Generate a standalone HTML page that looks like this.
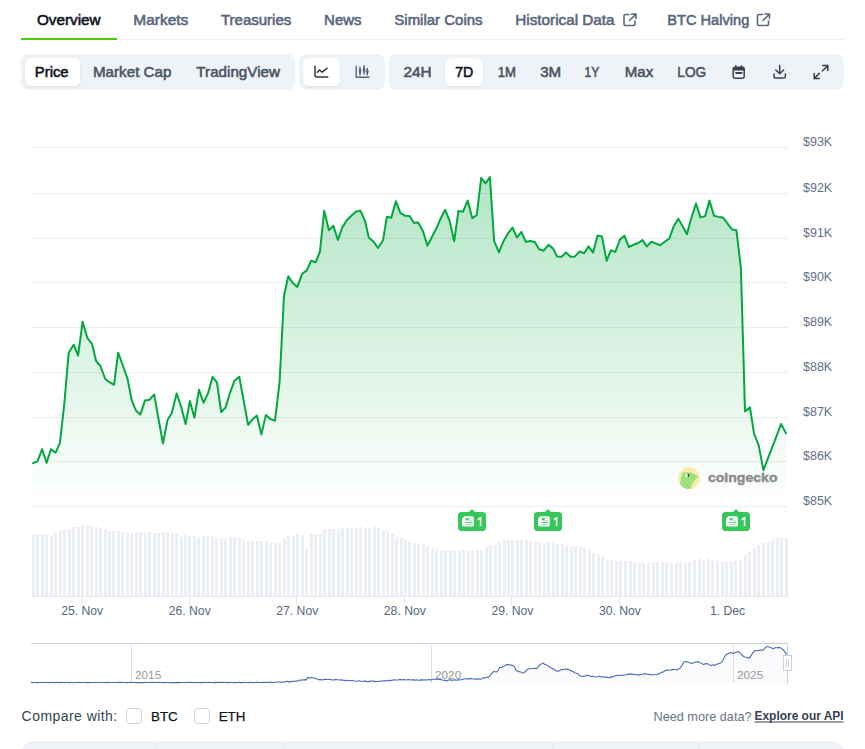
<!DOCTYPE html>
<html><head><meta charset="utf-8"><style>
html,body{margin:0;padding:0;background:#fff;width:865px;height:749px;overflow:hidden}
svg{display:block;font-family:"Liberation Sans", sans-serif}
</style></head><body>
<svg width="865" height="749" viewBox="0 0 865 749">
<defs>
<linearGradient id="ag" x1="0" y1="177" x2="0" y2="506" gradientUnits="userSpaceOnUse">
<stop offset="0" stop-color="#00a83e" stop-opacity="0.3"/>
<stop offset="1" stop-color="#00a83e" stop-opacity="0"/>
</linearGradient>
<filter id="sh" x="-20%" y="-20%" width="140%" height="150%"><feDropShadow dx="0" dy="1" stdDeviation="1" flood-color="#0d1421" flood-opacity="0.08"/></filter>
</defs>
<g transform="translate(623,13)" fill="none" stroke="#58667e" stroke-width="1.6" stroke-linecap="round" stroke-linejoin="round"><path d="M6 1.5H2.5a1.5 1.5 0 0 0-1.5 1.5v8a1.5 1.5 0 0 0 1.5 1.5h8a1.5 1.5 0 0 0 1.5-1.5V8"/><path d="M8.5 1H13V5.5M13 1L6.5 7.5"/></g><g transform="translate(756.5,13)" fill="none" stroke="#58667e" stroke-width="1.6" stroke-linecap="round" stroke-linejoin="round"><path d="M6 1.5H2.5a1.5 1.5 0 0 0-1.5 1.5v8a1.5 1.5 0 0 0 1.5 1.5h8a1.5 1.5 0 0 0 1.5-1.5V8"/><path d="M8.5 1H13V5.5M13 1L6.5 7.5"/></g><rect x="117" y="39" width="727" height="1" fill="#eef1f5"/><rect x="21" y="38" width="96" height="2" fill="#4bcc00"/><rect x="21" y="54" width="274" height="36" rx="8" fill="#eff3f8"/><rect x="299" y="54" width="86" height="36" rx="8" fill="#eff3f8"/><rect x="389" y="54" width="455" height="36" rx="8" fill="#eff3f8"/><rect x="25" y="58" width="55" height="28" rx="6" fill="#fff" filter="url(#sh)"/><rect x="303" y="58" width="37" height="28" rx="6" fill="#fff" filter="url(#sh)"/><rect x="445" y="58" width="38" height="28" rx="6" fill="#fff" filter="url(#sh)"/><text x="37.0" y="25" font-size="14" font-weight="400" fill="#0d1421" text-anchor="start" stroke="#0d1421" stroke-width="0.55" textLength="63.60" lengthAdjust="spacingAndGlyphs">Overview</text><text x="133.3" y="25" font-size="14" font-weight="400" fill="#58667e" text-anchor="start" stroke="#58667e" stroke-width="0.55" textLength="55.00" lengthAdjust="spacingAndGlyphs">Markets</text><text x="221.0" y="25" font-size="14" font-weight="400" fill="#58667e" text-anchor="start" stroke="#58667e" stroke-width="0.55" textLength="70.28" lengthAdjust="spacingAndGlyphs">Treasuries</text><text x="324.14" y="25" font-size="14" font-weight="400" fill="#58667e" text-anchor="start" stroke="#58667e" stroke-width="0.55" textLength="37.46" lengthAdjust="spacingAndGlyphs">News</text><text x="394.32" y="25" font-size="14" font-weight="400" fill="#58667e" text-anchor="start" stroke="#58667e" stroke-width="0.55" textLength="88.28" lengthAdjust="spacingAndGlyphs">Similar Coins</text><text x="515.3" y="25" font-size="14" font-weight="400" fill="#58667e" text-anchor="start" stroke="#58667e" stroke-width="0.55" textLength="99.30" lengthAdjust="spacingAndGlyphs">Historical Data</text><text x="667.32" y="25" font-size="14" font-weight="400" fill="#58667e" text-anchor="start" stroke="#58667e" stroke-width="0.55" textLength="81.98" lengthAdjust="spacingAndGlyphs">BTC Halving</text><text x="34.8" y="77" font-size="14" font-weight="400" fill="#0d1421" text-anchor="start" stroke="#0d1421" stroke-width="0.55" textLength="33.80" lengthAdjust="spacingAndGlyphs">Price</text><text x="92.98" y="77" font-size="14" font-weight="400" fill="#4b5565" text-anchor="start" stroke="#4b5565" stroke-width="0.55" textLength="78.48" lengthAdjust="spacingAndGlyphs">Market Cap</text><text x="196.36" y="77" font-size="14" font-weight="400" fill="#4b5565" text-anchor="start" stroke="#4b5565" stroke-width="0.55" textLength="83.58" lengthAdjust="spacingAndGlyphs">TradingView</text><text x="403.5" y="77" font-size="14" font-weight="400" fill="#4b5565" text-anchor="start" stroke="#4b5565" stroke-width="0.55" textLength="28.14" lengthAdjust="spacingAndGlyphs">24H</text><text x="455.16" y="77" font-size="14" font-weight="400" fill="#0d1421" text-anchor="start" stroke="#0d1421" stroke-width="0.55" textLength="18.12" lengthAdjust="spacingAndGlyphs">7D</text><text x="497.66" y="77" font-size="14" font-weight="400" fill="#4b5565" text-anchor="start" stroke="#4b5565" stroke-width="0.55" textLength="18.32" lengthAdjust="spacingAndGlyphs">1M</text><text x="540.16" y="77" font-size="14" font-weight="400" fill="#4b5565" text-anchor="start" stroke="#4b5565" stroke-width="0.55" textLength="20.98" lengthAdjust="spacingAndGlyphs">3M</text><text x="584.48" y="77" font-size="14" font-weight="400" fill="#4b5565" text-anchor="start" stroke="#4b5565" stroke-width="0.55" textLength="14.78" lengthAdjust="spacingAndGlyphs">1Y</text><text x="624.82" y="77" font-size="14" font-weight="400" fill="#4b5565" text-anchor="start" stroke="#4b5565" stroke-width="0.55" textLength="28.46" lengthAdjust="spacingAndGlyphs">Max</text><text x="677.32" y="77" font-size="14" font-weight="400" fill="#4b5565" text-anchor="start" stroke="#4b5565" stroke-width="0.55" textLength="28.82" lengthAdjust="spacingAndGlyphs">LOG</text><g fill="none" stroke="#2f3848" stroke-width="1.5" stroke-linecap="round" stroke-linejoin="round"><path d="M315 66.3V75.5a1.5 1.5 0 0 0 1.5 1.5H327.8"/><path d="M317.3 72.2L319.5 69.9L322.1 72.2L327 68.4"/></g><g fill="none" stroke="#58667e" stroke-width="1.4" stroke-linecap="round"><path d="M356.2 66.2V77.2H369"/><path d="M360 67.3V74.9M364.1 65.7V74.1M367.3 68.4V74.9"/></g><g fill="#58667e"><ellipse cx="360" cy="71.1" rx="1.3" ry="2.6"/><ellipse cx="364.1" cy="69.9" rx="1.3" ry="2.8"/><ellipse cx="367.3" cy="71.6" rx="1.3" ry="2.2"/></g><g fill="none" stroke="#364152" stroke-width="1.5" stroke-linejoin="round"><rect x="733.2" y="67.2" width="11" height="11" rx="2"/></g><rect x="733.2" y="67.2" width="11" height="3.3" fill="#364152"/><rect x="735.4" y="72" width="7" height="2" fill="#364152"/><path d="M735.8 65.2V67.5M741.6 65.2V67.5" stroke="#364152" stroke-width="1.5"/><g fill="none" stroke="#364152" stroke-width="1.5" stroke-linecap="round" stroke-linejoin="round"><path d="M779.7 65.5V73.5M775.8 70L779.7 73.8L783.6 70"/><path d="M774 74V76.3a1.8 1.8 0 0 0 1.8 1.8h7.8a1.8 1.8 0 0 0 1.8-1.8V74"/></g><g fill="none" stroke="#364152" stroke-width="1.5" stroke-linecap="round" stroke-linejoin="round"><path d="M822.7 65.6H827.8V70.6M827.8 65.6L822.3 71"/><path d="M814.2 73.6V78.6H819.2M814.2 78.6L819.3 73.4"/></g><rect x="31" y="147" width="757" height="1" fill="#ebeef2"/><rect x="31" y="193" width="757" height="1" fill="#ebeef2"/><rect x="31" y="238" width="757" height="1" fill="#ebeef2"/><rect x="31" y="282" width="757" height="1" fill="#ebeef2"/><rect x="31" y="327" width="757" height="1" fill="#ebeef2"/><rect x="31" y="372" width="757" height="1" fill="#ebeef2"/><rect x="31" y="417" width="757" height="1" fill="#ebeef2"/><rect x="31" y="461" width="757" height="1" fill="#ebeef2"/><rect x="31" y="506" width="757" height="1" fill="#ebeef2"/><text x="803" y="145.8" font-size="12.5" font-weight="400" fill="#64708a" text-anchor="start" >$93K</text><text x="803" y="191.8" font-size="12.5" font-weight="400" fill="#64708a" text-anchor="start" >$92K</text><text x="803" y="236.8" font-size="12.5" font-weight="400" fill="#64708a" text-anchor="start" >$91K</text><text x="803" y="280.8" font-size="12.5" font-weight="400" fill="#64708a" text-anchor="start" >$90K</text><text x="803" y="325.8" font-size="12.5" font-weight="400" fill="#64708a" text-anchor="start" >$89K</text><text x="803" y="370.8" font-size="12.5" font-weight="400" fill="#64708a" text-anchor="start" >$88K</text><text x="803" y="415.8" font-size="12.5" font-weight="400" fill="#64708a" text-anchor="start" >$87K</text><text x="803" y="459.8" font-size="12.5" font-weight="400" fill="#64708a" text-anchor="start" >$86K</text><text x="803" y="504.8" font-size="12.5" font-weight="400" fill="#64708a" text-anchor="start" >$85K</text><path d="M33.0 463.2 L37.5 461.3 L42.0 449.3 L46.7 462.8 L50.9 449.3 L55.6 452.7 L59.9 442.9 L64.3 404.0 L68.7 352.7 L73.6 344.8 L78.1 355.5 L82.6 321.8 L87.3 337.8 L92.0 343.8 L96.2 361.3 L100.5 366.0 L105.2 379.0 L109.5 382.2 L114.0 384.8 L118.2 352.7 L123.0 366.0 L127.5 378.6 L131.7 400.1 L135.9 410.5 L140.4 414.5 L144.9 400.6 L149.4 399.8 L154.2 394.5 L158.7 420.0 L163.0 443.4 L167.5 420.1 L171.8 412.9 L176.6 393.4 L181.1 406.5 L185.6 424.1 L189.9 400.9 L194.4 417.7 L199.0 389.7 L203.5 402.8 L208.0 393.4 L212.5 376.9 L217.0 382.5 L221.2 412.0 L225.6 407.5 L230.0 392.8 L234.4 380.8 L239.3 376.7 L243.7 400.9 L248.1 424.8 L252.5 419.3 L256.9 415.6 L261.4 434.4 L265.9 414.9 L270.3 419.0 L275.0 420.7 L279.6 382.0 L284.0 295.8 L288.3 276.3 L292.8 283.1 L297.4 286.9 L302.2 273.7 L306.8 270.4 L311.1 260.8 L315.6 262.3 L319.9 251.8 L324.2 210.8 L328.9 230.2 L333.3 225.6 L337.9 239.9 L342.2 227.6 L346.8 220.3 L351.4 215.7 L355.7 211.7 L360.3 210.6 L364.9 220.6 L368.8 237.4 L373.4 241.4 L378.0 248.0 L383.0 240.3 L386.9 216.8 L391.3 217.7 L395.9 201.3 L400.5 213.1 L404.9 215.7 L409.6 216.0 L414.0 223.0 L418.2 222.6 L423.0 231.3 L427.4 245.7 L432.0 236.7 L436.4 228.3 L440.6 218.7 L445.1 209.7 L449.7 221.1 L454.2 241.2 L458.4 211.1 L462.9 211.8 L467.7 200.6 L472.3 218.3 L476.7 215.1 L481.2 177.8 L485.5 183.5 L489.9 177.0 L494.1 240.9 L498.9 252.3 L503.1 242.1 L507.7 233.8 L512.5 227.5 L516.9 237.4 L521.4 231.8 L525.8 241.8 L530.4 241.1 L534.8 242.0 L539.1 249.2 L543.7 250.7 L548.4 244.9 L553.0 248.4 L557.0 256.4 L561.6 256.8 L566.0 252.4 L570.7 256.8 L575.0 256.4 L579.6 251.5 L584.2 253.3 L588.5 246.4 L593.1 252.6 L597.5 235.6 L602.0 236.6 L606.6 260.9 L610.8 250.3 L615.4 251.9 L619.9 239.5 L624.3 235.7 L628.9 247.0 L633.5 244.7 L638.2 243.0 L642.5 240.1 L646.8 246.4 L651.4 241.8 L656.1 243.6 L660.3 245.3 L664.7 241.8 L669.4 238.4 L673.8 226.2 L678.3 218.7 L682.7 226.2 L686.9 234.3 L691.3 218.1 L696.0 203.5 L700.5 217.4 L705.2 216.1 L709.5 200.6 L714.0 215.8 L718.6 216.9 L723.1 217.6 L727.4 223.3 L732.0 229.4 L736.4 230.2 L740.9 268.0 L745.0 411.4 L750.0 407.4 L754.0 433.4 L758.7 445.4 L763.4 470.1 L767.8 458.6 L772.3 447.1 L776.7 435.5 L781.1 424.0 L786.0 433.4 L786.0 506 L33.0 506 Z" fill="url(#ag)"/><g fill="#ebeef3" shape-rendering="crispEdges"><rect x="32" y="535" width="3" height="61"/><rect x="36" y="534" width="3" height="62"/><rect x="41" y="534" width="3" height="62"/><rect x="45" y="534" width="3" height="62"/><rect x="50" y="536" width="3" height="60"/><rect x="54" y="533" width="3" height="63"/><rect x="59" y="531" width="3" height="65"/><rect x="63" y="530" width="3" height="66"/><rect x="68" y="529" width="3" height="67"/><rect x="72" y="527" width="3" height="69"/><rect x="77" y="527" width="3" height="69"/><rect x="81" y="525" width="3" height="71"/><rect x="86" y="525" width="3" height="71"/><rect x="90" y="526" width="3" height="70"/><rect x="95" y="527" width="3" height="69"/><rect x="99" y="528" width="3" height="68"/><rect x="104" y="529" width="3" height="67"/><rect x="108" y="531" width="3" height="65"/><rect x="112" y="531" width="3" height="65"/><rect x="117" y="531" width="3" height="65"/><rect x="121" y="532" width="3" height="64"/><rect x="126" y="533" width="3" height="63"/><rect x="130" y="534" width="3" height="62"/><rect x="135" y="532" width="3" height="64"/><rect x="139" y="532" width="3" height="64"/><rect x="144" y="533" width="3" height="63"/><rect x="148" y="532" width="3" height="64"/><rect x="153" y="533" width="3" height="63"/><rect x="157" y="533" width="3" height="63"/><rect x="162" y="532" width="3" height="64"/><rect x="166" y="532" width="3" height="64"/><rect x="171" y="533" width="3" height="63"/><rect x="175" y="534" width="3" height="62"/><rect x="180" y="537" width="3" height="59"/><rect x="184" y="535" width="3" height="61"/><rect x="188" y="536" width="3" height="60"/><rect x="193" y="536" width="3" height="60"/><rect x="197" y="537" width="3" height="59"/><rect x="202" y="536" width="3" height="60"/><rect x="206" y="536" width="3" height="60"/><rect x="211" y="536" width="3" height="60"/><rect x="215" y="538" width="3" height="58"/><rect x="220" y="538" width="3" height="58"/><rect x="224" y="538" width="3" height="58"/><rect x="229" y="537" width="3" height="59"/><rect x="233" y="537" width="3" height="59"/><rect x="238" y="538" width="3" height="58"/><rect x="242" y="540" width="3" height="56"/><rect x="247" y="541" width="3" height="55"/><rect x="251" y="541" width="3" height="55"/><rect x="256" y="541" width="3" height="55"/><rect x="260" y="541" width="3" height="55"/><rect x="265" y="541" width="3" height="55"/><rect x="269" y="543" width="3" height="53"/><rect x="274" y="543" width="3" height="53"/><rect x="278" y="543" width="3" height="53"/><rect x="283" y="539" width="3" height="57"/><rect x="287" y="536" width="3" height="60"/><rect x="292" y="535" width="3" height="61"/><rect x="296" y="534" width="3" height="62"/><rect x="301" y="535" width="3" height="61"/><rect x="305" y="549" width="3" height="47"/><rect x="310" y="534" width="3" height="62"/><rect x="314" y="534" width="3" height="62"/><rect x="319" y="534" width="3" height="62"/><rect x="323" y="529" width="3" height="67"/><rect x="328" y="529" width="3" height="67"/><rect x="332" y="529" width="3" height="67"/><rect x="337" y="529" width="3" height="67"/><rect x="341" y="528" width="3" height="68"/><rect x="346" y="528" width="3" height="68"/><rect x="350" y="528" width="3" height="68"/><rect x="355" y="528" width="3" height="68"/><rect x="359" y="527" width="3" height="69"/><rect x="364" y="528" width="3" height="68"/><rect x="368" y="528" width="3" height="68"/><rect x="373" y="527" width="3" height="69"/><rect x="377" y="528" width="3" height="68"/><rect x="382" y="530" width="3" height="66"/><rect x="386" y="531" width="3" height="65"/><rect x="391" y="534" width="3" height="62"/><rect x="395" y="537" width="3" height="59"/><rect x="400" y="538" width="3" height="58"/><rect x="404" y="540" width="3" height="56"/><rect x="408" y="542" width="3" height="54"/><rect x="413" y="543" width="3" height="53"/><rect x="417" y="543" width="3" height="53"/><rect x="422" y="544" width="3" height="52"/><rect x="426" y="546" width="3" height="50"/><rect x="431" y="548" width="3" height="48"/><rect x="435" y="549" width="3" height="47"/><rect x="440" y="550" width="3" height="46"/><rect x="444" y="550" width="3" height="46"/><rect x="449" y="550" width="3" height="46"/><rect x="453" y="550" width="3" height="46"/><rect x="458" y="550" width="3" height="46"/><rect x="462" y="550" width="3" height="46"/><rect x="467" y="551" width="3" height="45"/><rect x="471" y="550" width="3" height="46"/><rect x="476" y="550" width="3" height="46"/><rect x="480" y="550" width="3" height="46"/><rect x="485" y="547" width="3" height="49"/><rect x="489" y="545" width="3" height="51"/><rect x="494" y="545" width="3" height="51"/><rect x="498" y="542" width="3" height="54"/><rect x="503" y="540" width="3" height="56"/><rect x="507" y="540" width="3" height="56"/><rect x="511" y="540" width="3" height="56"/><rect x="516" y="540" width="3" height="56"/><rect x="520" y="540" width="3" height="56"/><rect x="525" y="540" width="3" height="56"/><rect x="529" y="541" width="3" height="55"/><rect x="534" y="541" width="3" height="55"/><rect x="538" y="542" width="3" height="54"/><rect x="543" y="543" width="3" height="53"/><rect x="547" y="542" width="3" height="54"/><rect x="552" y="543" width="3" height="53"/><rect x="556" y="544" width="3" height="52"/><rect x="561" y="544" width="3" height="52"/><rect x="565" y="545" width="3" height="51"/><rect x="570" y="546" width="3" height="50"/><rect x="574" y="546" width="3" height="50"/><rect x="579" y="547" width="3" height="49"/><rect x="583" y="548" width="3" height="48"/><rect x="588" y="549" width="3" height="47"/><rect x="592" y="553" width="3" height="43"/><rect x="597" y="554" width="3" height="42"/><rect x="601" y="556" width="3" height="40"/><rect x="606" y="560" width="3" height="36"/><rect x="610" y="560" width="3" height="36"/><rect x="615" y="561" width="3" height="35"/><rect x="619" y="561" width="3" height="35"/><rect x="624" y="561" width="3" height="35"/><rect x="629" y="561" width="3" height="35"/><rect x="633" y="562" width="3" height="34"/><rect x="638" y="563" width="3" height="33"/><rect x="642" y="562" width="3" height="34"/><rect x="647" y="562" width="3" height="34"/><rect x="652" y="562" width="3" height="34"/><rect x="656" y="562" width="3" height="34"/><rect x="661" y="562" width="3" height="34"/><rect x="665" y="563" width="3" height="33"/><rect x="670" y="563" width="3" height="33"/><rect x="675" y="562" width="3" height="34"/><rect x="679" y="562" width="3" height="34"/><rect x="684" y="563" width="3" height="33"/><rect x="688" y="562" width="3" height="34"/><rect x="693" y="560" width="3" height="36"/><rect x="698" y="559" width="3" height="37"/><rect x="702" y="560" width="3" height="36"/><rect x="707" y="559" width="3" height="37"/><rect x="711" y="560" width="3" height="36"/><rect x="716" y="561" width="3" height="35"/><rect x="721" y="562" width="3" height="34"/><rect x="725" y="562" width="3" height="34"/><rect x="730" y="562" width="3" height="34"/><rect x="734" y="561" width="3" height="35"/><rect x="739" y="560" width="3" height="36"/><rect x="744" y="555" width="3" height="41"/><rect x="748" y="551" width="3" height="45"/><rect x="753" y="548" width="3" height="48"/><rect x="757" y="545" width="3" height="51"/><rect x="762" y="543" width="3" height="53"/><rect x="767" y="542" width="3" height="54"/><rect x="771" y="540" width="3" height="56"/><rect x="776" y="538" width="3" height="58"/><rect x="780" y="538" width="3" height="58"/><rect x="785" y="538" width="3" height="58"/></g><rect x="31" y="596" width="757" height="1" fill="#e6e9ee"/><rect x="81" y="596" width="1" height="10" fill="#e6e9ee"/><text x="82.2" y="615" font-size="12.2" font-weight="400" fill="#58667e" text-anchor="middle" >25. Nov</text><rect x="189" y="596" width="1" height="10" fill="#e6e9ee"/><text x="189.75" y="615" font-size="12.2" font-weight="400" fill="#58667e" text-anchor="middle" >26. Nov</text><rect x="296" y="596" width="1" height="10" fill="#e6e9ee"/><text x="297.3" y="615" font-size="12.2" font-weight="400" fill="#58667e" text-anchor="middle" >27. Nov</text><rect x="404" y="596" width="1" height="10" fill="#e6e9ee"/><text x="404.84999999999997" y="615" font-size="12.2" font-weight="400" fill="#58667e" text-anchor="middle" >28. Nov</text><rect x="511" y="596" width="1" height="10" fill="#e6e9ee"/><text x="512.4" y="615" font-size="12.2" font-weight="400" fill="#58667e" text-anchor="middle" >29. Nov</text><rect x="619" y="596" width="1" height="10" fill="#e6e9ee"/><text x="619.95" y="615" font-size="12.2" font-weight="400" fill="#58667e" text-anchor="middle" >30. Nov</text><rect x="726" y="596" width="1" height="10" fill="#e6e9ee"/><text x="727.5" y="615" font-size="12.2" font-weight="400" fill="#58667e" text-anchor="middle" >1. Dec</text><clipPath id="lc"><circle cx="689" cy="478.1" r="10.9"/></clipPath><circle cx="689" cy="478.1" r="10.9" fill="#fbeaa8"/><path clip-path="url(#lc)" d="M678 490L680 484.2C680.6 480 681.2 476 682 473.4C682.8 472.4 683.6 472.2 684.4 472.2L690.8 472.4C692.5 473 693.6 474 694.8 474.6L697.6 475.8L697.4 477.4C695.5 479.5 694 481 692.8 483C691.8 484.5 691.3 485.8 691.2 487L690.8 491Z" fill="#9de27c"/><circle cx="687.4" cy="475.4" r="1.9" fill="#fff"/><path d="M687.6 473.6a1.8 1.8 0 0 1 0 3.6Z" fill="#444"/><text x="707.9" y="481.8" font-size="13.2" font-weight="700" fill="#8b8b8b" text-anchor="start" textLength="69.6" lengthAdjust="spacingAndGlyphs" stroke="#8b8b8b" stroke-width="0.45">coingecko</text><path d="M33.0 463.2 L37.5 461.3 L42.0 449.3 L46.7 462.8 L50.9 449.3 L55.6 452.7 L59.9 442.9 L64.3 404.0 L68.7 352.7 L73.6 344.8 L78.1 355.5 L82.6 321.8 L87.3 337.8 L92.0 343.8 L96.2 361.3 L100.5 366.0 L105.2 379.0 L109.5 382.2 L114.0 384.8 L118.2 352.7 L123.0 366.0 L127.5 378.6 L131.7 400.1 L135.9 410.5 L140.4 414.5 L144.9 400.6 L149.4 399.8 L154.2 394.5 L158.7 420.0 L163.0 443.4 L167.5 420.1 L171.8 412.9 L176.6 393.4 L181.1 406.5 L185.6 424.1 L189.9 400.9 L194.4 417.7 L199.0 389.7 L203.5 402.8 L208.0 393.4 L212.5 376.9 L217.0 382.5 L221.2 412.0 L225.6 407.5 L230.0 392.8 L234.4 380.8 L239.3 376.7 L243.7 400.9 L248.1 424.8 L252.5 419.3 L256.9 415.6 L261.4 434.4 L265.9 414.9 L270.3 419.0 L275.0 420.7 L279.6 382.0 L284.0 295.8 L288.3 276.3 L292.8 283.1 L297.4 286.9 L302.2 273.7 L306.8 270.4 L311.1 260.8 L315.6 262.3 L319.9 251.8 L324.2 210.8 L328.9 230.2 L333.3 225.6 L337.9 239.9 L342.2 227.6 L346.8 220.3 L351.4 215.7 L355.7 211.7 L360.3 210.6 L364.9 220.6 L368.8 237.4 L373.4 241.4 L378.0 248.0 L383.0 240.3 L386.9 216.8 L391.3 217.7 L395.9 201.3 L400.5 213.1 L404.9 215.7 L409.6 216.0 L414.0 223.0 L418.2 222.6 L423.0 231.3 L427.4 245.7 L432.0 236.7 L436.4 228.3 L440.6 218.7 L445.1 209.7 L449.7 221.1 L454.2 241.2 L458.4 211.1 L462.9 211.8 L467.7 200.6 L472.3 218.3 L476.7 215.1 L481.2 177.8 L485.5 183.5 L489.9 177.0 L494.1 240.9 L498.9 252.3 L503.1 242.1 L507.7 233.8 L512.5 227.5 L516.9 237.4 L521.4 231.8 L525.8 241.8 L530.4 241.1 L534.8 242.0 L539.1 249.2 L543.7 250.7 L548.4 244.9 L553.0 248.4 L557.0 256.4 L561.6 256.8 L566.0 252.4 L570.7 256.8 L575.0 256.4 L579.6 251.5 L584.2 253.3 L588.5 246.4 L593.1 252.6 L597.5 235.6 L602.0 236.6 L606.6 260.9 L610.8 250.3 L615.4 251.9 L619.9 239.5 L624.3 235.7 L628.9 247.0 L633.5 244.7 L638.2 243.0 L642.5 240.1 L646.8 246.4 L651.4 241.8 L656.1 243.6 L660.3 245.3 L664.7 241.8 L669.4 238.4 L673.8 226.2 L678.3 218.7 L682.7 226.2 L686.9 234.3 L691.3 218.1 L696.0 203.5 L700.5 217.4 L705.2 216.1 L709.5 200.6 L714.0 215.8 L718.6 216.9 L723.1 217.6 L727.4 223.3 L732.0 229.4 L736.4 230.2 L740.9 268.0 L745.0 411.4 L750.0 407.4 L754.0 433.4 L758.7 445.4 L763.4 470.1 L767.8 458.6 L772.3 447.1 L776.7 435.5 L781.1 424.0 L786.0 433.4" fill="none" stroke="#00a83e" stroke-width="2" stroke-linejoin="round" stroke-linecap="round"/><g><path d="M469 512L472 509L475 512Z" fill="#36c75a"/><rect x="458" y="512" width="28" height="19" rx="3.5" fill="#36c75a"/><rect x="463.1" y="516.2" width="10.7" height="10.4" rx="1.6" fill="#fff"/><rect x="462" y="518" width="1.6" height="8.2" rx="0.8" fill="#fff"/><rect x="465.9" y="518" width="2.8" height="2.4" fill="#36c75a"/><rect x="465.4" y="522" width="7" height="0.9" fill="#36c75a"/><rect x="465.4" y="524.3" width="7" height="0.7" fill="#7fd996"/><rect x="470" y="518" width="1.3" height="0.8" fill="#7fd996"/><rect x="470" y="520" width="1.3" height="0.8" fill="#36c75a"/><path d="M479.8 517.1H481.4V525.9H479.8V519.5L477.7 520.6V519L479.8 517.1Z" fill="#fff"/></g><g><path d="M545 512L548 509L551 512Z" fill="#36c75a"/><rect x="534" y="512" width="28" height="19" rx="3.5" fill="#36c75a"/><rect x="539.1" y="516.2" width="10.7" height="10.4" rx="1.6" fill="#fff"/><rect x="538" y="518" width="1.6" height="8.2" rx="0.8" fill="#fff"/><rect x="541.9" y="518" width="2.8" height="2.4" fill="#36c75a"/><rect x="541.4" y="522" width="7" height="0.9" fill="#36c75a"/><rect x="541.4" y="524.3" width="7" height="0.7" fill="#7fd996"/><rect x="546" y="518" width="1.3" height="0.8" fill="#7fd996"/><rect x="546" y="520" width="1.3" height="0.8" fill="#36c75a"/><path d="M555.8 517.1H557.4V525.9H555.8V519.5L553.7 520.6V519L555.8 517.1Z" fill="#fff"/></g><g><path d="M733 512L736 509L739 512Z" fill="#36c75a"/><rect x="722" y="512" width="28" height="19" rx="3.5" fill="#36c75a"/><rect x="727.1" y="516.2" width="10.7" height="10.4" rx="1.6" fill="#fff"/><rect x="726" y="518" width="1.6" height="8.2" rx="0.8" fill="#fff"/><rect x="729.9" y="518" width="2.8" height="2.4" fill="#36c75a"/><rect x="729.4" y="522" width="7" height="0.9" fill="#36c75a"/><rect x="729.4" y="524.3" width="7" height="0.7" fill="#7fd996"/><rect x="734" y="518" width="1.3" height="0.8" fill="#7fd996"/><rect x="734" y="520" width="1.3" height="0.8" fill="#36c75a"/><path d="M743.8 517.1H745.4V525.9H743.8V519.5L741.7 520.6V519L743.8 517.1Z" fill="#fff"/></g><path d="M31.0 682.37 L32.6 682.58 L34.2 682.48 L35.8 682.57 L37.4 682.64 L39.0 682.51 L40.6 682.50 L42.2 682.37 L43.8 682.43 L45.4 682.50 L47.0 682.55 L48.6 682.59 L50.2 682.46 L51.8 682.37 L53.4 682.44 L55.0 682.62 L56.6 682.41 L58.2 682.49 L59.8 682.63 L61.4 682.36 L63.0 682.53 L64.6 682.64 L66.2 682.42 L67.8 682.51 L69.4 682.62 L71.0 682.39 L72.6 682.51 L74.2 682.58 L75.8 682.55 L77.4 682.49 L79.0 682.41 L80.6 682.50 L82.2 682.46 L83.8 682.49 L85.4 682.46 L87.0 682.60 L88.6 682.58 L90.2 682.44 L91.8 682.52 L93.4 682.43 L95.0 682.49 L96.6 682.46 L98.2 682.55 L99.8 682.46 L101.4 682.49 L103.0 682.57 L104.6 682.47 L106.2 682.62 L107.8 682.40 L109.4 682.57 L111.0 682.48 L112.6 682.48 L114.2 682.54 L115.8 682.51 L117.4 682.47 L119.0 682.35 L120.6 682.38 L122.2 682.56 L123.8 682.51 L125.4 682.56 L127.0 682.64 L128.6 682.55 L130.2 682.37 L131.8 682.44 L133.4 682.53 L135.0 682.42 L136.6 682.64 L138.2 682.63 L139.8 682.60 L141.4 682.49 L143.0 682.60 L144.6 682.39 L146.2 682.44 L147.8 682.49 L149.4 682.57 L151.0 682.50 L152.6 682.39 L154.2 682.45 L155.8 682.45 L157.4 682.44 L159.0 682.40 L160.6 682.47 L162.2 682.48 L163.8 682.58 L165.4 682.59 L167.0 682.51 L168.6 682.49 L170.2 682.58 L171.8 682.62 L173.4 682.55 L175.0 682.59 L176.6 682.63 L178.2 682.36 L179.8 682.61 L181.4 682.43 L183.0 682.49 L184.6 682.59 L186.2 682.57 L187.8 682.39 L189.4 682.55 L191.0 682.37 L192.6 682.46 L194.2 682.59 L195.8 682.48 L197.4 682.53 L199.0 682.57 L200.6 682.60 L202.2 682.58 L203.8 682.35 L205.4 682.48 L207.0 682.49 L208.6 682.37 L210.2 682.51 L211.8 682.53 L213.4 682.60 L215.0 682.63 L216.6 682.39 L218.2 682.42 L219.8 682.55 L221.4 682.39 L223.0 682.42 L224.6 682.52 L226.2 682.40 L227.8 682.58 L229.4 682.61 L231.0 682.36 L232.6 682.51 L234.2 682.59 L235.8 682.64 L237.4 682.43 L239.0 682.40 L240.6 682.61 L242.2 682.62 L243.8 682.41 L245.4 682.48 L247.0 682.57 L248.6 682.60 L250.2 682.40 L251.8 682.55 L253.4 682.59 L255.0 682.51 L256.6 682.40 L258.2 682.36 L259.8 682.43 L261.4 682.59 L263.0 682.36 L264.6 682.35 L266.2 682.46 L267.8 682.37 L269.4 682.39 L271.0 682.07 L272.6 682.44 L274.2 682.51 L275.8 682.18 L277.4 681.83 L279.0 681.93 L280.6 682.08 L282.2 682.31 L283.8 682.27 L285.4 681.51 L287.0 681.22 L288.6 681.87 L290.2 681.86 L291.8 681.27 L293.4 681.38 L295.0 681.30 L296.6 680.90 L298.2 680.96 L299.8 680.03 L301.4 680.08 L303.0 679.92 L304.6 679.61 L306.2 679.95 L307.8 677.40 L309.4 677.86 L311.0 677.43 L312.6 677.81 L314.2 678.16 L315.8 678.47 L317.4 679.30 L319.0 679.83 L320.6 679.61 L322.2 679.96 L323.8 679.42 L325.4 679.42 L327.0 679.54 L328.6 679.54 L330.2 679.36 L331.8 679.98 L333.4 679.98 L335.0 679.41 L336.6 679.73 L338.2 679.68 L339.8 679.96 L341.4 679.88 L343.0 680.16 L344.6 680.62 L346.2 680.21 L347.8 680.53 L349.4 680.56 L351.0 680.78 L352.6 680.24 L354.2 680.93 L355.8 681.20 L357.4 680.97 L359.0 680.76 L360.6 681.19 L362.2 681.30 L363.8 681.33 L365.4 680.88 L367.0 681.63 L368.6 681.61 L370.2 681.13 L371.8 681.28 L373.4 680.79 L375.0 681.64 L376.6 681.49 L378.2 681.32 L379.8 681.43 L381.4 680.92 L383.0 680.98 L384.6 680.76 L386.2 680.92 L387.8 680.31 L389.4 680.87 L391.0 680.33 L392.6 680.15 L394.2 679.69 L395.8 680.05 L397.4 680.01 L399.0 679.72 L400.6 679.40 L402.2 679.92 L403.8 679.37 L405.4 680.01 L407.0 679.82 L408.6 679.58 L410.2 679.81 L411.8 679.94 L413.4 679.64 L415.0 680.19 L416.6 679.84 L418.2 680.29 L419.8 680.27 L421.4 679.63 L423.0 680.08 L424.6 679.71 L426.2 680.04 L427.8 679.77 L429.4 679.63 L431.0 679.95 L432.6 679.13 L434.2 679.51 L435.8 679.23 L437.4 678.90 L439.0 679.47 L440.6 679.40 L442.2 680.07 L443.8 680.19 L445.4 680.33 L447.0 680.86 L448.6 679.99 L450.2 679.84 L451.8 680.37 L453.4 679.96 L455.0 679.86 L456.6 680.24 L458.2 679.66 L459.8 680.02 L461.4 679.64 L463.0 679.20 L464.6 678.80 L466.2 678.81 L467.8 679.30 L469.4 678.63 L471.0 678.47 L472.6 678.68 L474.2 679.31 L475.8 678.74 L477.4 679.37 L479.0 678.82 L480.6 679.19 L482.2 678.43 L483.8 677.61 L485.4 678.03 L487.0 677.14 L488.6 677.10 L490.2 675.52 L491.8 673.39 L493.4 671.66 L495.0 671.71 L496.6 671.98 L498.2 670.33 L499.8 667.35 L501.4 667.46 L503.0 666.52 L504.6 666.05 L506.2 664.59 L507.8 664.47 L509.4 664.75 L511.0 665.15 L512.6 665.55 L514.2 666.21 L515.8 669.96 L517.4 671.01 L519.0 671.62 L520.6 672.05 L522.2 672.67 L523.8 672.92 L525.4 671.50 L527.0 669.58 L528.6 668.91 L530.2 668.73 L531.8 668.53 L533.4 668.47 L535.0 668.23 L536.6 668.72 L538.2 667.18 L539.8 664.57 L541.4 664.00 L543.0 663.01 L544.6 664.16 L546.2 664.66 L547.8 665.93 L549.4 666.62 L551.0 668.08 L552.6 668.53 L554.2 669.42 L555.8 670.85 L557.4 671.09 L559.0 670.93 L560.6 669.96 L562.2 669.28 L563.8 669.71 L565.4 668.80 L567.0 669.42 L568.6 669.38 L570.2 670.66 L571.8 670.90 L573.4 671.74 L575.0 672.95 L576.6 673.19 L578.2 674.23 L579.8 675.85 L581.4 675.95 L583.0 676.41 L584.6 676.29 L586.2 675.41 L587.8 675.57 L589.4 675.64 L591.0 676.43 L592.6 676.16 L594.2 676.77 L595.8 676.94 L597.4 676.81 L599.0 676.16 L600.6 676.95 L602.2 676.59 L603.8 677.27 L605.4 677.16 L607.0 677.03 L608.6 677.69 L610.2 677.36 L611.8 676.87 L613.4 676.71 L615.0 675.68 L616.6 675.47 L618.2 675.27 L619.8 675.50 L621.4 675.26 L623.0 675.10 L624.6 675.07 L626.2 674.66 L627.8 674.16 L629.4 674.33 L631.0 673.89 L632.6 674.09 L634.2 674.74 L635.8 674.28 L637.4 674.91 L639.0 675.13 L640.6 674.59 L642.2 674.20 L643.8 674.10 L645.4 673.52 L647.0 674.09 L648.6 674.44 L650.2 674.25 L651.8 675.05 L653.4 674.73 L655.0 674.48 L656.6 674.53 L658.2 674.13 L659.8 673.56 L661.4 672.34 L663.0 672.10 L664.6 671.07 L666.2 670.36 L667.8 670.10 L669.4 670.07 L671.0 669.88 L672.6 669.59 L674.2 669.47 L675.8 669.49 L677.4 670.03 L679.0 668.62 L680.6 667.76 L682.2 665.11 L683.8 661.91 L685.4 661.48 L687.0 661.84 L688.6 662.27 L690.2 662.94 L691.8 663.51 L693.4 662.81 L695.0 662.20 L696.6 661.95 L698.2 661.67 L699.8 662.67 L701.4 663.09 L703.0 664.40 L704.6 664.11 L706.2 663.57 L707.8 663.84 L709.4 665.07 L711.0 665.46 L712.6 664.71 L714.2 665.55 L715.8 664.56 L717.4 663.98 L719.0 663.44 L720.6 662.93 L722.2 661.65 L723.8 658.41 L725.4 655.28 L727.0 654.35 L728.6 653.45 L730.2 652.65 L731.8 653.06 L733.4 653.48 L735.0 652.51 L736.6 651.98 L738.2 651.54 L739.8 652.89 L741.4 654.42 L743.0 656.03 L744.6 656.95 L746.2 657.28 L747.8 657.69 L749.4 658.13 L751.0 655.60 L752.6 653.18 L754.2 650.96 L755.8 650.52 L757.4 650.80 L759.0 650.33 L760.6 650.01 L762.2 650.46 L763.8 649.62 L765.4 647.52 L767.0 646.63 L768.6 646.81 L770.2 647.34 L771.8 648.13 L773.4 648.80 L775.0 647.77 L776.6 647.73 L778.2 647.61 L779.8 647.54 L781.4 648.59 L783.0 649.67 L784.6 651.64 L786.2 654.13 L787.0 654.30 L787 683 L31 683 Z" fill="rgba(69,104,177,0.025)"/><rect x="31" y="643" width="757" height="1" fill="#c8d2e2"/><rect x="131" y="643" width="1" height="40" fill="#dcdfe4"/><text x="135" y="679" font-size="11.8" font-weight="400" fill="#999999" text-anchor="start" >2015</text><rect x="431" y="643" width="1" height="40" fill="#dcdfe4"/><text x="435" y="679" font-size="11.8" font-weight="400" fill="#999999" text-anchor="start" >2020</text><rect x="733" y="643" width="1" height="40" fill="#dcdfe4"/><text x="737" y="679" font-size="11.8" font-weight="400" fill="#999999" text-anchor="start" >2025</text><path d="M31.0 682.37 L32.6 682.58 L34.2 682.48 L35.8 682.57 L37.4 682.64 L39.0 682.51 L40.6 682.50 L42.2 682.37 L43.8 682.43 L45.4 682.50 L47.0 682.55 L48.6 682.59 L50.2 682.46 L51.8 682.37 L53.4 682.44 L55.0 682.62 L56.6 682.41 L58.2 682.49 L59.8 682.63 L61.4 682.36 L63.0 682.53 L64.6 682.64 L66.2 682.42 L67.8 682.51 L69.4 682.62 L71.0 682.39 L72.6 682.51 L74.2 682.58 L75.8 682.55 L77.4 682.49 L79.0 682.41 L80.6 682.50 L82.2 682.46 L83.8 682.49 L85.4 682.46 L87.0 682.60 L88.6 682.58 L90.2 682.44 L91.8 682.52 L93.4 682.43 L95.0 682.49 L96.6 682.46 L98.2 682.55 L99.8 682.46 L101.4 682.49 L103.0 682.57 L104.6 682.47 L106.2 682.62 L107.8 682.40 L109.4 682.57 L111.0 682.48 L112.6 682.48 L114.2 682.54 L115.8 682.51 L117.4 682.47 L119.0 682.35 L120.6 682.38 L122.2 682.56 L123.8 682.51 L125.4 682.56 L127.0 682.64 L128.6 682.55 L130.2 682.37 L131.8 682.44 L133.4 682.53 L135.0 682.42 L136.6 682.64 L138.2 682.63 L139.8 682.60 L141.4 682.49 L143.0 682.60 L144.6 682.39 L146.2 682.44 L147.8 682.49 L149.4 682.57 L151.0 682.50 L152.6 682.39 L154.2 682.45 L155.8 682.45 L157.4 682.44 L159.0 682.40 L160.6 682.47 L162.2 682.48 L163.8 682.58 L165.4 682.59 L167.0 682.51 L168.6 682.49 L170.2 682.58 L171.8 682.62 L173.4 682.55 L175.0 682.59 L176.6 682.63 L178.2 682.36 L179.8 682.61 L181.4 682.43 L183.0 682.49 L184.6 682.59 L186.2 682.57 L187.8 682.39 L189.4 682.55 L191.0 682.37 L192.6 682.46 L194.2 682.59 L195.8 682.48 L197.4 682.53 L199.0 682.57 L200.6 682.60 L202.2 682.58 L203.8 682.35 L205.4 682.48 L207.0 682.49 L208.6 682.37 L210.2 682.51 L211.8 682.53 L213.4 682.60 L215.0 682.63 L216.6 682.39 L218.2 682.42 L219.8 682.55 L221.4 682.39 L223.0 682.42 L224.6 682.52 L226.2 682.40 L227.8 682.58 L229.4 682.61 L231.0 682.36 L232.6 682.51 L234.2 682.59 L235.8 682.64 L237.4 682.43 L239.0 682.40 L240.6 682.61 L242.2 682.62 L243.8 682.41 L245.4 682.48 L247.0 682.57 L248.6 682.60 L250.2 682.40 L251.8 682.55 L253.4 682.59 L255.0 682.51 L256.6 682.40 L258.2 682.36 L259.8 682.43 L261.4 682.59 L263.0 682.36 L264.6 682.35 L266.2 682.46 L267.8 682.37 L269.4 682.39 L271.0 682.07 L272.6 682.44 L274.2 682.51 L275.8 682.18 L277.4 681.83 L279.0 681.93 L280.6 682.08 L282.2 682.31 L283.8 682.27 L285.4 681.51 L287.0 681.22 L288.6 681.87 L290.2 681.86 L291.8 681.27 L293.4 681.38 L295.0 681.30 L296.6 680.90 L298.2 680.96 L299.8 680.03 L301.4 680.08 L303.0 679.92 L304.6 679.61 L306.2 679.95 L307.8 677.40 L309.4 677.86 L311.0 677.43 L312.6 677.81 L314.2 678.16 L315.8 678.47 L317.4 679.30 L319.0 679.83 L320.6 679.61 L322.2 679.96 L323.8 679.42 L325.4 679.42 L327.0 679.54 L328.6 679.54 L330.2 679.36 L331.8 679.98 L333.4 679.98 L335.0 679.41 L336.6 679.73 L338.2 679.68 L339.8 679.96 L341.4 679.88 L343.0 680.16 L344.6 680.62 L346.2 680.21 L347.8 680.53 L349.4 680.56 L351.0 680.78 L352.6 680.24 L354.2 680.93 L355.8 681.20 L357.4 680.97 L359.0 680.76 L360.6 681.19 L362.2 681.30 L363.8 681.33 L365.4 680.88 L367.0 681.63 L368.6 681.61 L370.2 681.13 L371.8 681.28 L373.4 680.79 L375.0 681.64 L376.6 681.49 L378.2 681.32 L379.8 681.43 L381.4 680.92 L383.0 680.98 L384.6 680.76 L386.2 680.92 L387.8 680.31 L389.4 680.87 L391.0 680.33 L392.6 680.15 L394.2 679.69 L395.8 680.05 L397.4 680.01 L399.0 679.72 L400.6 679.40 L402.2 679.92 L403.8 679.37 L405.4 680.01 L407.0 679.82 L408.6 679.58 L410.2 679.81 L411.8 679.94 L413.4 679.64 L415.0 680.19 L416.6 679.84 L418.2 680.29 L419.8 680.27 L421.4 679.63 L423.0 680.08 L424.6 679.71 L426.2 680.04 L427.8 679.77 L429.4 679.63 L431.0 679.95 L432.6 679.13 L434.2 679.51 L435.8 679.23 L437.4 678.90 L439.0 679.47 L440.6 679.40 L442.2 680.07 L443.8 680.19 L445.4 680.33 L447.0 680.86 L448.6 679.99 L450.2 679.84 L451.8 680.37 L453.4 679.96 L455.0 679.86 L456.6 680.24 L458.2 679.66 L459.8 680.02 L461.4 679.64 L463.0 679.20 L464.6 678.80 L466.2 678.81 L467.8 679.30 L469.4 678.63 L471.0 678.47 L472.6 678.68 L474.2 679.31 L475.8 678.74 L477.4 679.37 L479.0 678.82 L480.6 679.19 L482.2 678.43 L483.8 677.61 L485.4 678.03 L487.0 677.14 L488.6 677.10 L490.2 675.52 L491.8 673.39 L493.4 671.66 L495.0 671.71 L496.6 671.98 L498.2 670.33 L499.8 667.35 L501.4 667.46 L503.0 666.52 L504.6 666.05 L506.2 664.59 L507.8 664.47 L509.4 664.75 L511.0 665.15 L512.6 665.55 L514.2 666.21 L515.8 669.96 L517.4 671.01 L519.0 671.62 L520.6 672.05 L522.2 672.67 L523.8 672.92 L525.4 671.50 L527.0 669.58 L528.6 668.91 L530.2 668.73 L531.8 668.53 L533.4 668.47 L535.0 668.23 L536.6 668.72 L538.2 667.18 L539.8 664.57 L541.4 664.00 L543.0 663.01 L544.6 664.16 L546.2 664.66 L547.8 665.93 L549.4 666.62 L551.0 668.08 L552.6 668.53 L554.2 669.42 L555.8 670.85 L557.4 671.09 L559.0 670.93 L560.6 669.96 L562.2 669.28 L563.8 669.71 L565.4 668.80 L567.0 669.42 L568.6 669.38 L570.2 670.66 L571.8 670.90 L573.4 671.74 L575.0 672.95 L576.6 673.19 L578.2 674.23 L579.8 675.85 L581.4 675.95 L583.0 676.41 L584.6 676.29 L586.2 675.41 L587.8 675.57 L589.4 675.64 L591.0 676.43 L592.6 676.16 L594.2 676.77 L595.8 676.94 L597.4 676.81 L599.0 676.16 L600.6 676.95 L602.2 676.59 L603.8 677.27 L605.4 677.16 L607.0 677.03 L608.6 677.69 L610.2 677.36 L611.8 676.87 L613.4 676.71 L615.0 675.68 L616.6 675.47 L618.2 675.27 L619.8 675.50 L621.4 675.26 L623.0 675.10 L624.6 675.07 L626.2 674.66 L627.8 674.16 L629.4 674.33 L631.0 673.89 L632.6 674.09 L634.2 674.74 L635.8 674.28 L637.4 674.91 L639.0 675.13 L640.6 674.59 L642.2 674.20 L643.8 674.10 L645.4 673.52 L647.0 674.09 L648.6 674.44 L650.2 674.25 L651.8 675.05 L653.4 674.73 L655.0 674.48 L656.6 674.53 L658.2 674.13 L659.8 673.56 L661.4 672.34 L663.0 672.10 L664.6 671.07 L666.2 670.36 L667.8 670.10 L669.4 670.07 L671.0 669.88 L672.6 669.59 L674.2 669.47 L675.8 669.49 L677.4 670.03 L679.0 668.62 L680.6 667.76 L682.2 665.11 L683.8 661.91 L685.4 661.48 L687.0 661.84 L688.6 662.27 L690.2 662.94 L691.8 663.51 L693.4 662.81 L695.0 662.20 L696.6 661.95 L698.2 661.67 L699.8 662.67 L701.4 663.09 L703.0 664.40 L704.6 664.11 L706.2 663.57 L707.8 663.84 L709.4 665.07 L711.0 665.46 L712.6 664.71 L714.2 665.55 L715.8 664.56 L717.4 663.98 L719.0 663.44 L720.6 662.93 L722.2 661.65 L723.8 658.41 L725.4 655.28 L727.0 654.35 L728.6 653.45 L730.2 652.65 L731.8 653.06 L733.4 653.48 L735.0 652.51 L736.6 651.98 L738.2 651.54 L739.8 652.89 L741.4 654.42 L743.0 656.03 L744.6 656.95 L746.2 657.28 L747.8 657.69 L749.4 658.13 L751.0 655.60 L752.6 653.18 L754.2 650.96 L755.8 650.52 L757.4 650.80 L759.0 650.33 L760.6 650.01 L762.2 650.46 L763.8 649.62 L765.4 647.52 L767.0 646.63 L768.6 646.81 L770.2 647.34 L771.8 648.13 L773.4 648.80 L775.0 647.77 L776.6 647.73 L778.2 647.61 L779.8 647.54 L781.4 648.59 L783.0 649.67 L784.6 651.64 L786.2 654.13 L787.0 654.30" fill="none" stroke="#4a6db5" stroke-width="1.1" stroke-linejoin="round"/><rect x="787" y="643" width="1" height="41" fill="#c8d2e2"/><rect x="783.5" y="655.5" width="8" height="15" fill="#fff" stroke="#c8d2e2"/><path d="M786.5 659V667M788.5 659V667" stroke="#c8d2e2" stroke-width="1"/><text x="21.6" y="721" font-size="14" font-weight="400" fill="#364152" text-anchor="start" letter-spacing="0.45">Compare with:</text><rect x="126.5" y="708.5" width="15" height="15" rx="3.5" fill="#fff" stroke="#d0d5dd"/><rect x="194.5" y="708.5" width="15" height="15" rx="3.5" fill="#fff" stroke="#d0d5dd"/><text x="151" y="721" font-size="13.4" font-weight="400" fill="#0d1421" text-anchor="start" stroke="#0d1421" stroke-width="0.25">BTC</text><text x="218.7" y="721" font-size="13.4" font-weight="400" fill="#0d1421" text-anchor="start" stroke="#0d1421" stroke-width="0.25">ETH</text><text x="653.5" y="720.5" font-size="12.7" font-weight="400" fill="#6b7280" text-anchor="start" >Need more data?</text><text x="754.5" y="720.3" font-size="11.95" font-weight="700" fill="#364152" text-anchor="start" >Explore our API</text><rect x="754.5" y="721.5" width="89" height="1" fill="#364152"/><rect x="21.5" y="742" width="822" height="30" rx="11" fill="#eff3f8" stroke="#e9edf3" stroke-width="1"/><rect x="156" y="743" width="1" height="10" fill="#e3e7ec"/><rect x="283" y="743" width="1" height="10" fill="#e3e7ec"/><rect x="553" y="743" width="1" height="10" fill="#e3e7ec"/><rect x="698" y="743" width="1" height="10" fill="#e3e7ec"/>
</svg>
</body></html>
